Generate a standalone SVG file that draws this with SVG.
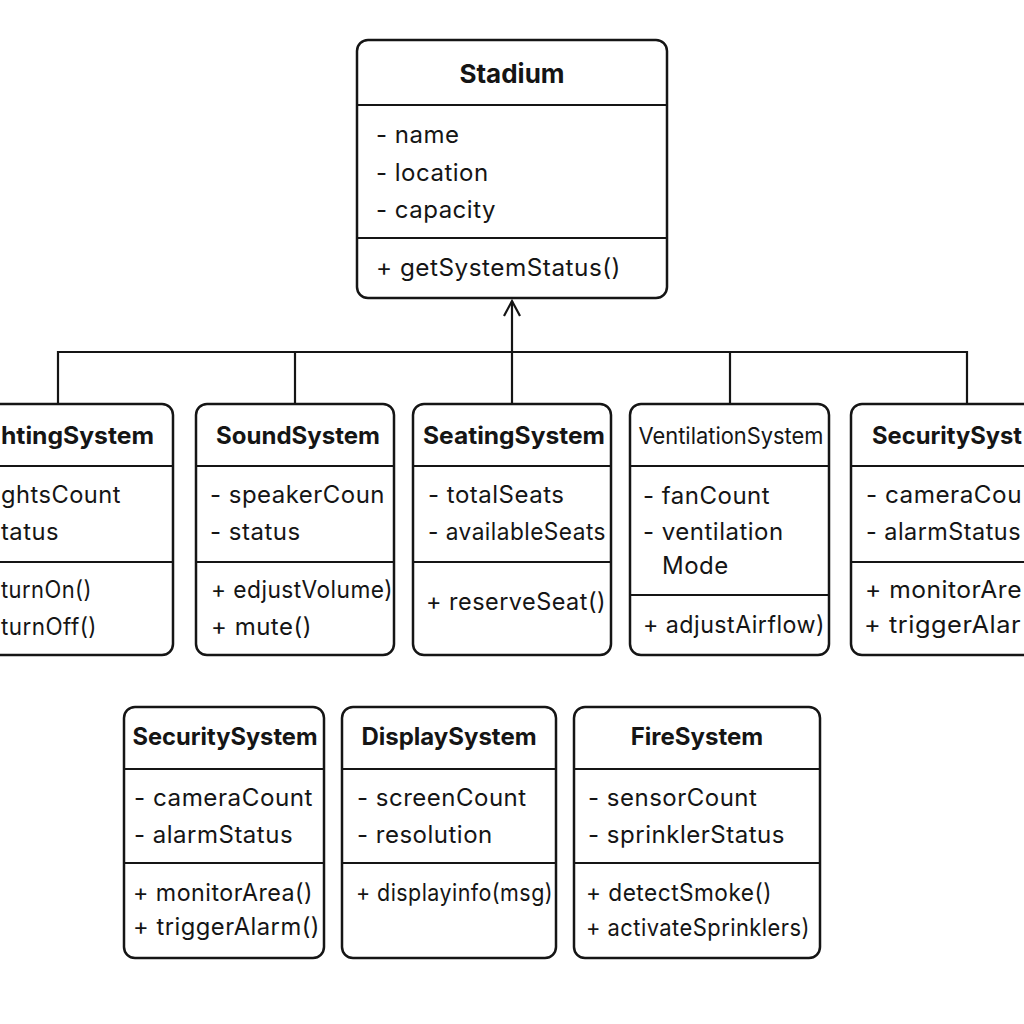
<svg xmlns="http://www.w3.org/2000/svg" width="1024" height="1024" viewBox="0 0 1024 1024">
<defs>
<style>
.box{fill:#fff;stroke:#151515;stroke-width:2.5}
.div{stroke:#151515;stroke-width:2.2}
.t{font-family:Inter,"Noto Sans","Liberation Sans",sans-serif;font-size:24px;font-weight:700;fill:#151515;text-anchor:middle}
.tr{font-family:Inter,"Noto Sans","Liberation Sans",sans-serif;font-size:23px;font-weight:400;fill:#151515;text-anchor:middle}
.a{font-family:Inter,"Noto Sans","Liberation Sans",sans-serif;font-size:24px;letter-spacing:0.5px;fill:#151515}
.conn{fill:none;stroke:#151515;stroke-width:2.2}
</style>
<marker id="open" markerWidth="20" markerHeight="20" refX="16" refY="9" orient="auto" markerUnits="userSpaceOnUse">
<path d="M1,1 L16,9 L1,17" fill="none" stroke="#151515" stroke-width="2.2"/>
</marker>
</defs>
<rect width="1024" height="1024" fill="#fff"/>
<g id="connectors">
<path class="conn" d="M58,404 V352 H967 V404"/>
<path class="conn" d="M295,352 V404"/>
<path class="conn" d="M730,352 V404"/>
<path class="conn" d="M512,404 V301" marker-end="url(#open)"/>
</g>
<g id="stadium">
<rect class="box" x="357" y="40" width="310" height="258" rx="11"/>
<line class="div" x1="357" y1="105" x2="667" y2="105"/>
<line class="div" x1="357" y1="238" x2="667" y2="238"/>
<text class="t" x="512" y="83" style="font-size:26px">Stadium</text>
<text class="a" x="376" y="143">-  name</text>
<text class="a" x="376" y="181">-  location</text>
<text class="a" x="376" y="218">-  capacity</text>
<text class="a" x="376" y="276" textLength="245" lengthAdjust="spacingAndGlyphs">+ getSystemStatus()</text>
</g>
<g id="lighting">
<rect class="box" x="-25" y="404" width="198" height="251" rx="11"/>
<line class="div" x1="-25" y1="466" x2="173" y2="466"/>
<line class="div" x1="-25" y1="562" x2="173" y2="562"/>
<text class="t" x="1" y="444" style="text-anchor:start" textLength="153" lengthAdjust="spacingAndGlyphs">htingSystem</text>
<text class="a" x="1" y="503" textLength="120" lengthAdjust="spacingAndGlyphs">ghtsCount</text>
<text class="a" x="1" y="540" textLength="58" lengthAdjust="spacingAndGlyphs">tatus</text>
<text class="a" x="1" y="598" textLength="91" lengthAdjust="spacingAndGlyphs">turnOn()</text>
<text class="a" x="1" y="635" textLength="96" lengthAdjust="spacingAndGlyphs">turnOff()</text>
</g>
<g id="sound">
<rect class="box" x="196" y="404" width="198" height="251" rx="11"/>
<line class="div" x1="196" y1="466" x2="394" y2="466"/>
<line class="div" x1="196" y1="562" x2="394" y2="562"/>
<text class="t" x="298" y="444">SoundSystem</text>
<text class="a" x="210" y="503" textLength="175" lengthAdjust="spacingAndGlyphs">- speakerCoun</text>
<text class="a" x="210" y="540">- status</text>
<text class="a" x="211" y="598" textLength="182" lengthAdjust="spacingAndGlyphs">+ edjustVolume)</text>
<text class="a" x="211" y="635">+ mute()</text>
</g>
<g id="seating">
<rect class="box" x="413" y="404" width="198" height="251" rx="11"/>
<line class="div" x1="413" y1="466" x2="611" y2="466"/>
<line class="div" x1="413" y1="562" x2="611" y2="562"/>
<text class="t" x="514" y="444" textLength="182" lengthAdjust="spacingAndGlyphs">SeatingSystem</text>
<text class="a" x="428" y="503">- totalSeats</text>
<text class="a" x="428" y="540" textLength="178" lengthAdjust="spacingAndGlyphs">- availableSeats</text>
<text class="a" x="426" y="610" textLength="180" lengthAdjust="spacingAndGlyphs">+ reserveSeat()</text>
</g>
<g id="ventilation">
<rect class="box" x="630" y="404" width="199" height="251" rx="11"/>
<line class="div" x1="630" y1="466" x2="829" y2="466"/>
<line class="div" x1="630" y1="595" x2="829" y2="595"/>
<text class="tr" x="731" y="444" textLength="185" lengthAdjust="spacingAndGlyphs">VentilationSystem</text>
<text class="a" x="643" y="504">- fanCount</text>
<text class="a" x="643" y="540">- ventilation</text>
<text class="a" x="662" y="574">Mode</text>
<text class="a" x="643" y="633" textLength="182" lengthAdjust="spacingAndGlyphs">+ adjustAirflow)</text>
</g>
<g id="security1">
<rect class="box" x="851" y="404" width="200" height="251" rx="11"/>
<line class="div" x1="851" y1="466" x2="1051" y2="466"/>
<line class="div" x1="851" y1="562" x2="1051" y2="562"/>
<text class="t" x="872" y="444" style="text-anchor:start" textLength="150" lengthAdjust="spacingAndGlyphs">SecuritySyst</text>
<text class="a" x="866" y="503" textLength="156" lengthAdjust="spacingAndGlyphs">- cameraCou</text>
<text class="a" x="866" y="540" textLength="155" lengthAdjust="spacingAndGlyphs">- alarmStatus</text>
<text class="a" x="865" y="598" textLength="157" lengthAdjust="spacingAndGlyphs">+ monitorAre</text>
<text class="a" x="864" y="633" textLength="157" lengthAdjust="spacingAndGlyphs">+ triggerAlar</text>
</g>
<g id="security2">
<rect class="box" x="124" y="707" width="200" height="251" rx="11"/>
<line class="div" x1="124" y1="769" x2="324" y2="769"/>
<line class="div" x1="124" y1="863" x2="324" y2="863"/>
<text class="t" x="225" y="745" textLength="185" lengthAdjust="spacingAndGlyphs">SecuritySystem</text>
<text class="a" x="134" y="806" textLength="179" lengthAdjust="spacingAndGlyphs">- cameraCount</text>
<text class="a" x="134" y="843">- alarmStatus</text>
<text class="a" x="133" y="901" textLength="180" lengthAdjust="spacingAndGlyphs">+ monitorArea()</text>
<text class="a" x="133" y="935" textLength="187" lengthAdjust="spacingAndGlyphs">+ triggerAlarm()</text>
</g>
<g id="display">
<rect class="box" x="342" y="707" width="214" height="251" rx="11"/>
<line class="div" x1="342" y1="769" x2="556" y2="769"/>
<line class="div" x1="342" y1="863" x2="556" y2="863"/>
<text class="t" x="449" y="745">DisplaySystem</text>
<text class="a" x="357" y="806">- screenCount</text>
<text class="a" x="357" y="843">- resolution</text>
<text class="a" x="356" y="901" textLength="197" lengthAdjust="spacingAndGlyphs">+ displayinfo(msg)</text>
</g>
<g id="fire">
<rect class="box" x="574" y="707" width="246" height="251" rx="11"/>
<line class="div" x1="574" y1="769" x2="820" y2="769"/>
<line class="div" x1="574" y1="863" x2="820" y2="863"/>
<text class="t" x="697" y="745">FireSystem</text>
<text class="a" x="588" y="806">- sensorCount</text>
<text class="a" x="588" y="843" textLength="197" lengthAdjust="spacingAndGlyphs">- sprinklerStatus</text>
<text class="a" x="586" y="901" textLength="186" lengthAdjust="spacingAndGlyphs">+ detectSmoke()</text>
<text class="a" x="586" y="936" textLength="224" lengthAdjust="spacingAndGlyphs">+ activateSprinklers)</text>
</g>
</svg>
